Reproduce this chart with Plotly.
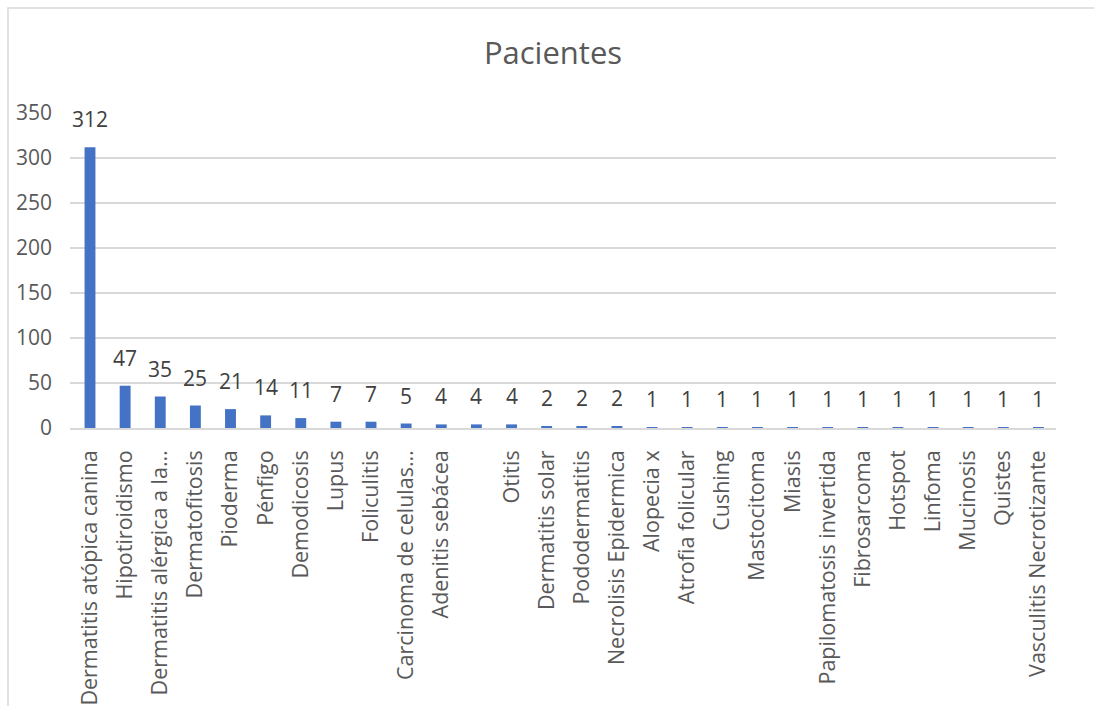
import plotly.graph_objects as go

categories = [
    "Dermatitis atópica canina", "Hipotiroidismo", "Dermatitis alérgica a la…",
    "Dermatofitosis", "Pioderma", "Pénfigo", "Demodicosis", "Lupus", "Foliculitis",
    "Carcinoma de celulas…", "Adenitis sebácea", " ", "Otitis", "Dermatitis solar",
    "Pododermatitis", "Necrolisis Epidermica", "Alopecia x", "Atrofia folicular",
    "Cushing", "Mastocitoma", "Miasis", "Papilomatosis invertida", "Fibrosarcoma",
    "Hotspot", "Linfoma", "Mucinosis", "Quistes", "Vasculitis Necrotizante",
]
values = [312, 47, 35, 25, 21, 14, 11, 7, 7, 5, 4, 4, 4, 2, 2, 2,
          1, 1, 1, 1, 1, 1, 1, 1, 1, 1, 1, 1]
y_ticks = [0, 50, 100, 150, 200, 250, 300, 350]

FONT = "Open Sans"
W, H = 1094, 706
ML, MR, MT, MB = 70, 38, 113, 278
pw, ph = W - ML - MR, H - MT - MB

fig = go.Figure()
fig.add_trace(go.Bar(
    x=categories, y=values, marker_color="#4472C4",
    marker_line_width=0, hoverinfo="x+y",
))

annotations = [
    dict(x=c, y=v, xref="x", yref="y", text=str(v), showarrow=False,
         yanchor="bottom", yshift=12,
         font=dict(family=FONT, size=21, color="#404040"))
    for c, v in zip(categories, values)
]

def px_x(p):
    return (p - ML) / pw

def px_y(p):
    return (H - MB - p) / ph

fig.update_layout(
    width=W, height=H,
    margin=dict(l=ML, r=MR, t=MT, b=MB, autoexpand=False),
    paper_bgcolor="white", plot_bgcolor="white",
    bargap=0.69,
    showlegend=False,
    font=dict(family=FONT, color="#595959"),
    title=dict(text="Pacientes", x=553 / W, xanchor="center",
               y=1 - 53 / H, yanchor="middle", xref="container", yref="container",
               font=dict(family=FONT, size=31, color="#595959")),
    xaxis=dict(
        type="category", tickangle=-90, showgrid=False,
        showline=True, linecolor="#D9D9D9", linewidth=1.5,
        ticks="", ticklabelstandoff=12, automargin=False,
        tickfont=dict(family=FONT, size=21.5, color="#595959"),
    ),
    yaxis=dict(
        range=[0, 350], tickvals=y_ticks, showgrid=True,
        gridcolor="#D9D9D9", gridwidth=1.5, zeroline=False,
        showline=False, ticks="", ticklabelstandoff=17, automargin=False,
        tickfont=dict(family=FONT, size=21, color="#595959"),
    ),
    annotations=annotations,
    shapes=[dict(type="rect", xref="paper", yref="paper",
                 x0=px_x(8), x1=px_x(W + 20), y0=px_y(H + 20), y1=px_y(8),
                 line=dict(color="#D9D9D9", width=1.5), layer="below")],
)

fig.write_html("out.html")
